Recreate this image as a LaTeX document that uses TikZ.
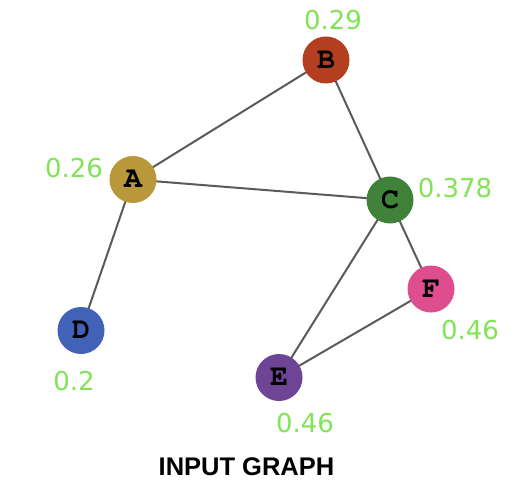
\documentclass[tikz,border=0pt]{standalone}
\usepackage{fontspec}
\usetikzlibrary{backgrounds}
\setmainfont{DejaVu Sans}
\newfontfamily\titlefont{Liberation Sans}
\newcommand{\lettfont}{\fontencoding{T1}\fontfamily{pcr}\fontseries{b}\selectfont}
\definecolor{cB}{RGB}{180,62,32}
\definecolor{cA}{RGB}{184,152,58}
\definecolor{cC}{RGB}{64,130,58}
\definecolor{cD}{RGB}{66,98,184}
\definecolor{cF}{RGB}{222,78,142}
\definecolor{cE}{RGB}{110,69,150}
\definecolor{lab}{RGB}{128,228,86}
\definecolor{edg}{RGB}{90,90,90}
\begin{document}
\begin{tikzpicture}[x=1pt,y=-1pt,
  vert/.style={circle,minimum size=47pt,inner sep=0pt,text=black,font=\fontsize{30}{30}\lettfont},
  val/.style={text=lab,inner sep=0pt,font=\fontsize{26}{26}\selectfont},
  edge/.style={draw=edg,line width=2pt}]
\useasboundingbox (0,0) rectangle (524,486);
\node[vert,fill=cB] (B) at (326,60) {B};
\node[vert,fill=cA] (A) at (133,179.5) {A};
\node[vert,fill=cC] (C) at (390,200) {C};
\node[vert,fill=cD] (D) at (81,330.5) {D};
\node[vert,fill=cF] (F) at (431,289) {F};
\node[vert,fill=cE] (E) at (279,377.5) {E};
\begin{scope}[on background layer]
\draw[edge] (A.center) -- (B.center);
\draw[edge] (A.center) -- (C.center);
\draw[edge] (B.center) -- (C.center);
\draw[edge] (A.center) -- (D.center);
\draw[edge] (C.center) -- (E.center);
\draw[edge] (C.center) -- (F.center);
\draw[edge] (E.center) -- (F.center);
\end{scope}
\node[val] (lB) at (333,20) {0.29};
\node[val] (lA) at (74,168) {0.26};
\node[val] (lC) at (455,188) {0.378};
\node[val] (lD) at (74,381) {0.2};
\node[val] (lF) at (470,330) {0.46};
\node[val] (lE) at (305,423) {0.46};
\node[inner sep=0pt,font=\titlefont\bfseries\fontsize{25.5}{25.5}\selectfont] (t) at (246.5,467) {INPUT GRAPH};
\end{tikzpicture}
\end{document}
